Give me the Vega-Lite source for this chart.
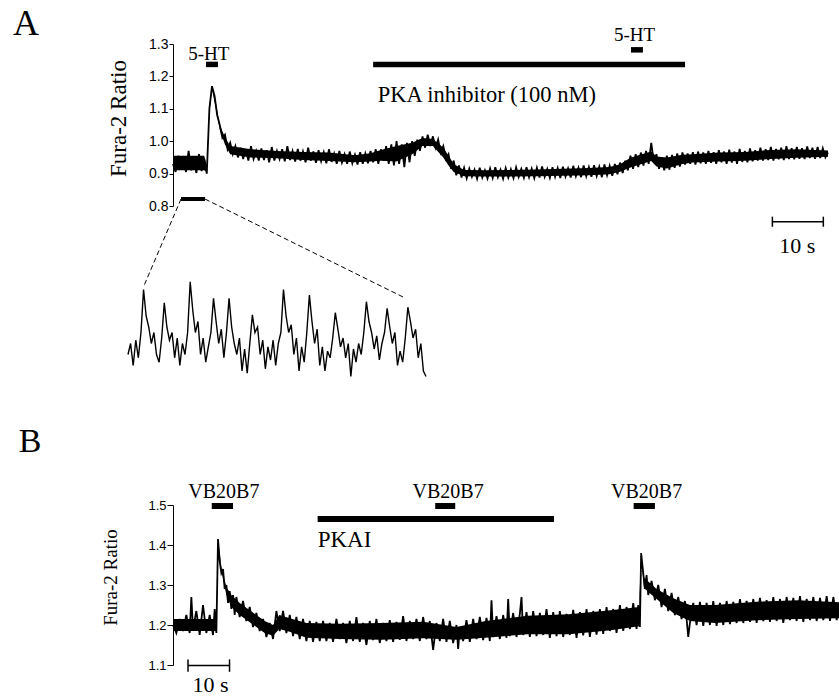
{
"$schema":"https://vega.github.io/schema/vega-lite/v6.json",
"background":"white",
"padding":{"left":12,"top":5,"right":0,"bottom":0},
"spacing":45,
"config":{"view":{"stroke":null}},
"vconcat":[
{
"width":655,"height":162,
"layer":[
{"layer":[
{"data":{"values":[{"t":0,"lo":0.91,"hi":0.955},{"t":6,"lo":0.91,"hi":0.955},{"t":6.5,"lo":0.905,"hi":0.925},{"t":7,"lo":1.09,"hi":1.11},{"t":7.5,"lo":1.16,"hi":1.17},{"t":8,"lo":1.12,"hi":1.14},{"t":9,"lo":1.035,"hi":1.05},{"t":10,"lo":0.99,"hi":1.012},{"t":11,"lo":0.96,"hi":0.985},{"t":15,"lo":0.95,"hi":0.975},{"t":20,"lo":0.947,"hi":0.97},{"t":25,"lo":0.942,"hi":0.967},{"t":30,"lo":0.939,"hi":0.965},{"t":35,"lo":0.935,"hi":0.957},{"t":38,"lo":0.937,"hi":0.963},{"t":40,"lo":0.94,"hi":0.973},{"t":43,"lo":0.937,"hi":0.985},{"t":46,"lo":0.96,"hi":0.995},{"t":48,"lo":0.985,"hi":1.01},{"t":50,"lo":0.985,"hi":1.007},{"t":52,"lo":0.95,"hi":0.98},{"t":53,"lo":0.925,"hi":0.955},{"t":54,"lo":0.905,"hi":0.93},{"t":56,"lo":0.892,"hi":0.911},{"t":60,"lo":0.891,"hi":0.91},{"t":65,"lo":0.891,"hi":0.911},{"t":70,"lo":0.892,"hi":0.913},{"t":75,"lo":0.893,"hi":0.915},{"t":80,"lo":0.895,"hi":0.917},{"t":84,"lo":0.898,"hi":0.92},{"t":86,"lo":0.906,"hi":0.929},{"t":88,"lo":0.919,"hi":0.949},{"t":90,"lo":0.929,"hi":0.959},{"t":92,"lo":0.939,"hi":0.968},{"t":93,"lo":0.922,"hi":0.953},{"t":95,"lo":0.916,"hi":0.95},{"t":98,"lo":0.93,"hi":0.958},{"t":100,"lo":0.934,"hi":0.96},{"t":105,"lo":0.937,"hi":0.965},{"t":110,"lo":0.94,"hi":0.967},{"t":115,"lo":0.945,"hi":0.973},{"t":120,"lo":0.949,"hi":0.975},{"t":126,"lo":0.952,"hi":0.971}]},
 "mark":{"type":"area","color":"black","opacity":1},
 "encoding":{"x":{"field":"t","type":"quantitative","scale":{"domain":[0,126],"nice":false,"zero":false},"axis":null},
  "y":{"field":"lo","type":"quantitative","scale":{"domain":[0.8,1.3],"nice":false,"zero":false},"axis":{"values":[0.8,0.9,1.0,1.1,1.2,1.3]}},"y2":{"field":"hi"}}},
{"data":{"values":[{"t":0,"r":0.93},{"t":0.5,"r":0.905},{"t":1,"r":0.955},{"t":1.5,"r":0.915},{"t":2,"r":0.945},{"t":2.5,"r":0.905},{"t":3,"r":0.97},{"t":3.5,"r":0.91},{"t":4,"r":0.94},{"t":4.5,"r":0.902},{"t":5,"r":0.96},{"t":5.5,"r":0.908},{"t":6,"r":0.945},{"t":6.5,"r":0.9},{"t":7,"r":1.1},{"t":7.5,"r":1.17},{"t":8,"r":1.14},{"t":8.5,"r":1.08},{"t":9,"r":1.05},{"t":9.5,"r":1.01},{"t":10,"r":1.02},{"t":10.5,"r":0.975},{"t":11,"r":0.995},{"t":11.5,"r":0.96},{"t":12,"r":0.985},{"t":12.5,"r":0.95},{"t":13,"r":0.98},{"t":13.5,"r":0.945},{"t":14,"r":0.975},{"t":14.5,"r":0.94},{"t":15,"r":0.985},{"t":15.5,"r":0.945},{"t":16,"r":0.97},{"t":16.5,"r":0.94},{"t":17,"r":0.978},{"t":17.5,"r":0.942},{"t":18,"r":0.972},{"t":18.5,"r":0.935},{"t":19,"r":0.982},{"t":19.5,"r":0.94},{"t":20,"r":0.97},{"t":20.5,"r":0.945},{"t":21,"r":0.975},{"t":21.5,"r":0.938},{"t":22,"r":0.985},{"t":22.5,"r":0.942},{"t":23,"r":0.97},{"t":23.5,"r":0.937},{"t":24,"r":0.976},{"t":24.5,"r":0.94},{"t":25,"r":0.968},{"t":25.5,"r":0.935},{"t":26,"r":0.98},{"t":26.5,"r":0.94},{"t":27,"r":0.968},{"t":27.5,"r":0.933},{"t":28,"r":0.972},{"t":28.5,"r":0.938},{"t":29,"r":0.966},{"t":29.5,"r":0.932},{"t":30,"r":0.975},{"t":30.5,"r":0.936},{"t":31,"r":0.962},{"t":31.5,"r":0.93},{"t":32,"r":0.97},{"t":32.5,"r":0.934},{"t":33,"r":0.96},{"t":33.5,"r":0.93},{"t":34,"r":0.968},{"t":34.5,"r":0.932},{"t":35,"r":0.958},{"t":35.5,"r":0.928},{"t":36,"r":0.966},{"t":36.5,"r":0.93},{"t":37,"r":0.962},{"t":37.5,"r":0.932},{"t":38,"r":0.97},{"t":38.5,"r":0.935},{"t":39,"r":0.975},{"t":39.5,"r":0.93},{"t":40,"r":0.975},{"t":40.5,"r":0.94},{"t":41,"r":0.985},{"t":41.5,"r":0.93},{"t":42,"r":0.99},{"t":42.5,"r":0.925},{"t":43,"r":1.0},{"t":43.5,"r":0.93},{"t":44,"r":0.99},{"t":44.5,"r":0.92},{"t":45,"r":0.995},{"t":45.5,"r":0.935},{"t":46,"r":1.0},{"t":46.5,"r":0.955},{"t":47,"r":1.005},{"t":47.5,"r":0.97},{"t":48,"r":1.015},{"t":48.5,"r":0.98},{"t":49,"r":1.02},{"t":49.5,"r":0.985},{"t":50,"r":1.015},{"t":50.5,"r":0.98},{"t":51,"r":1.005},{"t":51.5,"r":0.965},{"t":52,"r":0.985},{"t":52.5,"r":0.945},{"t":53,"r":0.96},{"t":53.5,"r":0.915},{"t":54,"r":0.94},{"t":54.5,"r":0.895},{"t":55,"r":0.925},{"t":55.5,"r":0.888},{"t":56,"r":0.918},{"t":56.5,"r":0.886},{"t":57,"r":0.915},{"t":57.5,"r":0.89},{"t":58,"r":0.912},{"t":58.5,"r":0.884},{"t":59,"r":0.918},{"t":59.5,"r":0.888},{"t":60,"r":0.91},{"t":60.5,"r":0.885},{"t":61,"r":0.916},{"t":61.5,"r":0.887},{"t":62,"r":0.92},{"t":62.5,"r":0.889},{"t":63,"r":0.912},{"t":63.5,"r":0.884},{"t":64,"r":0.917},{"t":64.5,"r":0.888},{"t":65,"r":0.913},{"t":65.5,"r":0.886},{"t":66,"r":0.919},{"t":66.5,"r":0.89},{"t":67,"r":0.914},{"t":67.5,"r":0.887},{"t":68,"r":0.92},{"t":68.5,"r":0.889},{"t":69,"r":0.915},{"t":69.5,"r":0.886},{"t":70,"r":0.918},{"t":70.5,"r":0.888},{"t":71,"r":0.922},{"t":71.5,"r":0.89},{"t":72,"r":0.914},{"t":72.5,"r":0.887},{"t":73,"r":0.92},{"t":73.5,"r":0.89},{"t":74,"r":0.917},{"t":74.5,"r":0.886},{"t":75,"r":0.921},{"t":75.5,"r":0.891},{"t":76,"r":0.916},{"t":76.5,"r":0.888},{"t":77,"r":0.924},{"t":77.5,"r":0.892},{"t":78,"r":0.918},{"t":78.5,"r":0.889},{"t":79,"r":0.925},{"t":79.5,"r":0.892},{"t":80,"r":0.92},{"t":80.5,"r":0.89},{"t":81,"r":0.926},{"t":81.5,"r":0.893},{"t":82,"r":0.921},{"t":82.5,"r":0.889},{"t":83,"r":0.928},{"t":83.5,"r":0.895},{"t":84,"r":0.924},{"t":84.5,"r":0.893},{"t":85,"r":0.93},{"t":85.5,"r":0.898},{"t":86,"r":0.934},{"t":86.5,"r":0.902},{"t":87,"r":0.94},{"t":87.5,"r":0.91},{"t":88,"r":0.955},{"t":88.5,"r":0.915},{"t":89,"r":0.96},{"t":89.5,"r":0.92},{"t":90,"r":0.965},{"t":90.5,"r":0.925},{"t":91,"r":0.97},{"t":91.5,"r":0.93},{"t":92,"r":0.995},{"t":92.5,"r":0.935},{"t":93,"r":0.96},{"t":93.5,"r":0.915},{"t":94,"r":0.95},{"t":94.5,"r":0.91},{"t":95,"r":0.955},{"t":95.5,"r":0.912},{"t":96,"r":0.958},{"t":96.5,"r":0.918},{"t":97,"r":0.962},{"t":97.5,"r":0.922},{"t":98,"r":0.965},{"t":98.5,"r":0.928},{"t":99,"r":0.962},{"t":99.5,"r":0.93},{"t":100,"r":0.966},{"t":100.5,"r":0.928},{"t":101,"r":0.968},{"t":101.5,"r":0.932},{"t":102,"r":0.965},{"t":102.5,"r":0.93},{"t":103,"r":0.97},{"t":103.5,"r":0.933},{"t":104,"r":0.966},{"t":104.5,"r":0.93},{"t":105,"r":0.972},{"t":105.5,"r":0.935},{"t":106,"r":0.968},{"t":106.5,"r":0.93},{"t":107,"r":0.974},{"t":107.5,"r":0.934},{"t":108,"r":0.968},{"t":108.5,"r":0.93},{"t":109,"r":0.976},{"t":109.5,"r":0.936},{"t":110,"r":0.97},{"t":110.5,"r":0.935},{"t":111,"r":0.978},{"t":111.5,"r":0.938},{"t":112,"r":0.972},{"t":112.5,"r":0.94},{"t":113,"r":0.98},{"t":113.5,"r":0.94},{"t":114,"r":0.975},{"t":114.5,"r":0.942},{"t":115,"r":0.982},{"t":115.5,"r":0.94},{"t":116,"r":0.976},{"t":116.5,"r":0.944},{"t":117,"r":0.98},{"t":117.5,"r":0.942},{"t":118,"r":0.985},{"t":118.5,"r":0.945},{"t":119,"r":0.978},{"t":119.5,"r":0.944},{"t":120,"r":0.982},{"t":120.5,"r":0.946},{"t":121,"r":0.978},{"t":121.5,"r":0.945},{"t":122,"r":0.984},{"t":122.5,"r":0.948},{"t":123,"r":0.98},{"t":123.5,"r":0.946},{"t":124,"r":0.982},{"t":124.5,"r":0.948},{"t":125,"r":0.978},{"t":125.5,"r":0.95},{"t":126,"r":0.965}]},
 "mark":{"type":"line","color":"black","strokeWidth":1.8},
 "encoding":{
  "x":{"field":"t","type":"quantitative","scale":{"domain":[0,126],"nice":false,"zero":false},"axis":null},
  "y":{"field":"r","type":"quantitative","scale":{"domain":[0.8,1.3],"nice":false,"zero":false},
   "axis":{"values":[0.8,0.9,1.0,1.1,1.2,1.3],"format":".1f","labelOverlap":false,"domainColor":"black","domainWidth":1,"tickColor":"black","tickSize":4,"tickWidth":1,"labelFont":"Liberation Sans","labelFontSize":14,"labelColor":"black","labelPadding":1,"grid":false,"title":"Fura-2 Ratio","titleFont":"Liberation Serif","titleFontSize":23,"titleFontWeight":"normal","titleColor":"black","titlePadding":18,"titleY":74}}}},
{"data":{"values":[{"t":6.35,"t2":8.65,"r":1.237},{"t":38.5,"t2":98.5,"r":1.237},{"t":88.1,"t2":90.4,"r":1.282}]},
 "mark":{"type":"rule","color":"black","strokeWidth":5.5,"strokeCap":"butt"},
 "encoding":{"x":{"field":"t","type":"quantitative","scale":{"domain":[0,126],"nice":false,"zero":false},"axis":null},"x2":{"field":"t2"},
  "y":{"field":"r","type":"quantitative","scale":{"domain":[0.8,1.3],"nice":false,"zero":false},"axis":{"values":[0.8,0.9,1.0,1.1,1.2,1.3]}}}},
{"data":{"values":[{"t":1.54,"t2":6.15,"r":0.8216}]},
 "mark":{"type":"rule","color":"black","strokeWidth":4,"strokeCap":"butt"},
 "encoding":{"x":{"field":"t","type":"quantitative","scale":{"domain":[0,126],"nice":false,"zero":false},"axis":null},"x2":{"field":"t2"},
  "y":{"field":"r","type":"quantitative","scale":{"domain":[0.8,1.3],"nice":false,"zero":false},"axis":{"values":[0.8,0.9,1.0,1.1,1.2,1.3]}}}},
{"data":{"values":[{"t":1.54,"r":0.8216,"t2":-5.52,"r2":0.5562},{"t":6.15,"r":0.8216,"t2":44.37,"r2":0.5182}]},
 "mark":{"type":"rule","color":"black","strokeWidth":1,"strokeDash":[5,3]},
 "encoding":{"x":{"field":"t","type":"quantitative","scale":{"domain":[0,126],"nice":false,"zero":false},"axis":null},"x2":{"field":"t2"},
  "y":{"field":"r","type":"quantitative","scale":{"domain":[0.8,1.3],"nice":false,"zero":false},"axis":{"values":[0.8,0.9,1.0,1.1,1.2,1.3]}},"y2":{"field":"r2"}}},
{"data":{"values":[{"t":115.3,"t2":125.1,"r":0.7515}]},
 "mark":{"type":"rule","color":"black","strokeWidth":1.5},
 "encoding":{"x":{"field":"t","type":"quantitative","scale":{"domain":[0,126],"nice":false,"zero":false},"axis":null},"x2":{"field":"t2"},
  "y":{"field":"r","type":"quantitative","scale":{"domain":[0.8,1.3],"nice":false,"zero":false},"axis":{"values":[0.8,0.9,1.0,1.1,1.2,1.3]}}}},
{"data":{"values":[{"t":115.3,"r":0.767,"r2":0.736},{"t":125.1,"r":0.767,"r2":0.736}]},
 "mark":{"type":"rule","color":"black","strokeWidth":1.5},
 "encoding":{"x":{"field":"t","type":"quantitative","scale":{"domain":[0,126],"nice":false,"zero":false},"axis":null},
  "y":{"field":"r","type":"quantitative","scale":{"domain":[0.8,1.3],"nice":false,"zero":false},"axis":{"values":[0.8,0.9,1.0,1.1,1.2,1.3]}},"y2":{"field":"r2"}}},
{"data":{"values":[{"t":6.9,"r":1.2506,"label":"5-HT"},{"t":88.8,"r":1.309,"label":"5-HT"}]},
 "mark":{"type":"text","font":"Liberation Serif","fontSize":19,"align":"center","baseline":"alphabetic","color":"black"},
 "encoding":{"x":{"field":"t","type":"quantitative","scale":{"domain":[0,126],"nice":false,"zero":false},"axis":null},
  "y":{"field":"r","type":"quantitative","scale":{"domain":[0.8,1.3],"nice":false,"zero":false},"axis":{"values":[0.8,0.9,1.0,1.1,1.2,1.3]}},"text":{"field":"label"}}},
{"data":{"values":[{"t":39.4,"r":1.122,"label":"PKA inhibitor (100 nM)"}]},
 "mark":{"type":"text","font":"Liberation Serif","fontSize":22.5,"align":"left","baseline":"alphabetic","color":"black"},
 "encoding":{"x":{"field":"t","type":"quantitative","scale":{"domain":[0,126],"nice":false,"zero":false},"axis":null},
  "y":{"field":"r","type":"quantitative","scale":{"domain":[0.8,1.3],"nice":false,"zero":false},"axis":{"values":[0.8,0.9,1.0,1.1,1.2,1.3]}},"text":{"field":"label"}}},
{"data":{"values":[{"t":120.1,"r":0.655,"label":"10 s"}]},
 "mark":{"type":"text","font":"Liberation Serif","fontSize":22,"align":"center","baseline":"alphabetic","color":"black"},
 "encoding":{"x":{"field":"t","type":"quantitative","scale":{"domain":[0,126],"nice":false,"zero":false},"axis":null},
  "y":{"field":"r","type":"quantitative","scale":{"domain":[0.8,1.3],"nice":false,"zero":false},"axis":{"values":[0.8,0.9,1.0,1.1,1.2,1.3]}},"text":{"field":"label"}}},
{"data":{"values":[{"t":-28.3,"r":1.328,"label":"A"}]},
 "mark":{"type":"text","font":"Liberation Serif","fontSize":36,"align":"center","baseline":"alphabetic","color":"black"},
 "encoding":{"x":{"field":"t","type":"quantitative","scale":{"domain":[0,126],"nice":false,"zero":false},"axis":null},
  "y":{"field":"r","type":"quantitative","scale":{"domain":[0.8,1.3],"nice":false,"zero":false},"axis":{"values":[0.8,0.9,1.0,1.1,1.2,1.3]}},"text":{"field":"label"}}}
]},
{"data":{"values":[{"u":0,"r":0.915},{"u":0.04,"r":0.925},{"u":0.08,"r":0.905},{"u":0.12,"r":0.928},{"u":0.16,"r":0.912},{"u":0.2,"r":0.935},{"u":0.24,"r":0.974},{"u":0.28,"r":0.95},{"u":0.32,"r":0.94},{"u":0.36,"r":0.925},{"u":0.4,"r":0.935},{"u":0.44,"r":0.915},{"u":0.48,"r":0.908},{"u":0.52,"r":0.93},{"u":0.56,"r":0.962},{"u":0.6,"r":0.94},{"u":0.64,"r":0.928},{"u":0.68,"r":0.935},{"u":0.72,"r":0.912},{"u":0.76,"r":0.93},{"u":0.8,"r":0.905},{"u":0.84,"r":0.925},{"u":0.88,"r":0.915},{"u":0.92,"r":0.935},{"u":0.96,"r":0.981},{"u":1.0,"r":0.955},{"u":1.04,"r":0.935},{"u":1.08,"r":0.945},{"u":1.12,"r":0.915},{"u":1.16,"r":0.93},{"u":1.2,"r":0.908},{"u":1.24,"r":0.922},{"u":1.28,"r":0.935},{"u":1.32,"r":0.966},{"u":1.36,"r":0.945},{"u":1.4,"r":0.925},{"u":1.44,"r":0.938},{"u":1.48,"r":0.912},{"u":1.52,"r":0.935},{"u":1.56,"r":0.966},{"u":1.6,"r":0.94},{"u":1.64,"r":0.925},{"u":1.68,"r":0.915},{"u":1.72,"r":0.93},{"u":1.76,"r":0.9},{"u":1.8,"r":0.92},{"u":1.84,"r":0.898},{"u":1.88,"r":0.925},{"u":1.92,"r":0.951},{"u":1.96,"r":0.935},{"u":2.0,"r":0.94},{"u":2.04,"r":0.915},{"u":2.08,"r":0.928},{"u":2.12,"r":0.902},{"u":2.16,"r":0.922},{"u":2.2,"r":0.91},{"u":2.24,"r":0.928},{"u":2.28,"r":0.905},{"u":2.32,"r":0.925},{"u":2.36,"r":0.935},{"u":2.4,"r":0.974},{"u":2.44,"r":0.95},{"u":2.48,"r":0.935},{"u":2.52,"r":0.942},{"u":2.56,"r":0.915},{"u":2.6,"r":0.93},{"u":2.64,"r":0.9},{"u":2.68,"r":0.922},{"u":2.72,"r":0.908},{"u":2.76,"r":0.935},{"u":2.8,"r":0.969},{"u":2.84,"r":0.945},{"u":2.88,"r":0.925},{"u":2.92,"r":0.938},{"u":2.96,"r":0.905},{"u":3.0,"r":0.922},{"u":3.04,"r":0.9},{"u":3.08,"r":0.918},{"u":3.12,"r":0.912},{"u":3.16,"r":0.93},{"u":3.2,"r":0.953},{"u":3.24,"r":0.938},{"u":3.28,"r":0.922},{"u":3.32,"r":0.93},{"u":3.36,"r":0.912},{"u":3.4,"r":0.925},{"u":3.44,"r":0.895},{"u":3.48,"r":0.92},{"u":3.52,"r":0.908},{"u":3.56,"r":0.925},{"u":3.6,"r":0.915},{"u":3.64,"r":0.935},{"u":3.68,"r":0.963},{"u":3.72,"r":0.945},{"u":3.76,"r":0.935},{"u":3.8,"r":0.92},{"u":3.84,"r":0.932},{"u":3.88,"r":0.91},{"u":3.92,"r":0.925},{"u":3.96,"r":0.935},{"u":4.0,"r":0.957},{"u":4.04,"r":0.94},{"u":4.08,"r":0.925},{"u":4.12,"r":0.935},{"u":4.16,"r":0.905},{"u":4.2,"r":0.918},{"u":4.24,"r":0.908},{"u":4.28,"r":0.93},{"u":4.32,"r":0.958},{"u":4.36,"r":0.945},{"u":4.4,"r":0.93},{"u":4.44,"r":0.938},{"u":4.48,"r":0.912},{"u":4.52,"r":0.925},{"u":4.56,"r":0.9},{"u":4.6,"r":0.895}]},
 "mark":{"type":"line","color":"black","strokeWidth":1.4},
 "encoding":{
  "x":{"field":"u","type":"quantitative","scale":{"domain":[0,4.6],"range":[-45,253],"nice":false,"zero":false},"axis":null},
  "y":{"field":"r","type":"quantitative","scale":{"domain":[0.89,0.99],"range":[338,228],"nice":false,"zero":false},"axis":null}}}
],
"resolve":{"scale":{"x":"independent","y":"independent"},"axis":{"y":"independent"}}
},
{
"width":667,"height":160,
"layer":[
{"data":{"values":[{"t":0,"lo":1.185,"hi":1.215},{"t":10.4,"lo":1.185,"hi":1.215},{"t":10.8,"lo":1.4,"hi":1.415},{"t":11.6,"lo":1.335,"hi":1.345},{"t":12.8,"lo":1.275,"hi":1.295},{"t":14,"lo":1.245,"hi":1.275},{"t":16,"lo":1.225,"hi":1.255},{"t":18,"lo":1.21,"hi":1.24},{"t":20,"lo":1.195,"hi":1.225},{"t":22,"lo":1.18,"hi":1.21},{"t":24,"lo":1.173,"hi":1.2},{"t":25.5,"lo":1.19,"hi":1.225},{"t":28,"lo":1.183,"hi":1.217},{"t":32,"lo":1.168,"hi":1.205},{"t":40,"lo":1.165,"hi":1.203},{"t":50,"lo":1.163,"hi":1.205},{"t":60,"lo":1.167,"hi":1.208},{"t":68,"lo":1.163,"hi":1.195},{"t":75,"lo":1.168,"hi":1.21},{"t":85,"lo":1.177,"hi":1.223},{"t":95,"lo":1.177,"hi":1.227},{"t":105,"lo":1.187,"hi":1.237},{"t":111.8,"lo":1.197,"hi":1.245},{"t":112.3,"lo":1.37,"hi":1.38},{"t":113,"lo":1.292,"hi":1.318},{"t":116,"lo":1.265,"hi":1.29},{"t":120,"lo":1.23,"hi":1.267},{"t":124,"lo":1.21,"hi":1.25},{"t":130,"lo":1.205,"hi":1.25},{"t":140,"lo":1.212,"hi":1.258},{"t":150,"lo":1.215,"hi":1.262},{"t":160,"lo":1.217,"hi":1.257}]},
 "mark":{"type":"area","color":"black","opacity":1},
 "encoding":{"x":{"field":"t","type":"quantitative","scale":{"domain":[0,160],"nice":false,"zero":false},"axis":null},
  "y":{"field":"lo","type":"quantitative","scale":{"domain":[1.1,1.5],"nice":false,"zero":false},"axis":{"values":[1.1,1.2,1.3,1.4,1.5]}},"y2":{"field":"hi"}}},
{"data":{"values":[{"t":0,"r":1.2},{"t":0.8,"r":1.18},{"t":1.6,"r":1.215},{"t":2.4,"r":1.185},{"t":3.2,"r":1.225},{"t":4.0,"r":1.18},{"t":4.4,"r":1.27},{"t":4.8,"r":1.19},{"t":5.6,"r":1.235},{"t":6.4,"r":1.175},{"t":7.2,"r":1.25},{"t":8.0,"r":1.18},{"t":8.8,"r":1.225},{"t":9.6,"r":1.175},{"t":10.0,"r":1.24},{"t":10.4,"r":1.18},{"t":10.8,"r":1.415},{"t":11.2,"r":1.36},{"t":11.6,"r":1.33},{"t":12.0,"r":1.34},{"t":12.4,"r":1.29},{"t":12.8,"r":1.3},{"t":13.2,"r":1.255},{"t":13.6,"r":1.285},{"t":14.0,"r":1.24},{"t":14.4,"r":1.275},{"t":14.8,"r":1.225},{"t":15.2,"r":1.27},{"t":16.0,"r":1.22},{"t":16.8,"r":1.26},{"t":17.6,"r":1.21},{"t":18.4,"r":1.245},{"t":19.2,"r":1.195},{"t":20.0,"r":1.23},{"t":20.8,"r":1.185},{"t":21.6,"r":1.215},{"t":22.4,"r":1.17},{"t":23.2,"r":1.205},{"t":24.0,"r":1.165},{"t":24.8,"r":1.235},{"t":25.6,"r":1.185},{"t":26.4,"r":1.235},{"t":27.2,"r":1.18},{"t":28.0,"r":1.225},{"t":28.8,"r":1.172},{"t":29.6,"r":1.22},{"t":30.4,"r":1.165},{"t":31.2,"r":1.215},{"t":32.0,"r":1.16},{"t":32.8,"r":1.21},{"t":33.6,"r":1.158},{"t":34.4,"r":1.208},{"t":35.2,"r":1.16},{"t":36.0,"r":1.21},{"t":36.8,"r":1.16},{"t":37.6,"r":1.205},{"t":38.4,"r":1.158},{"t":39.2,"r":1.215},{"t":40.0,"r":1.165},{"t":40.8,"r":1.205},{"t":41.6,"r":1.155},{"t":42.4,"r":1.21},{"t":43.2,"r":1.16},{"t":44.0,"r":1.22},{"t":44.8,"r":1.158},{"t":45.6,"r":1.205},{"t":46.4,"r":1.15},{"t":47.2,"r":1.21},{"t":48.0,"r":1.162},{"t":48.8,"r":1.215},{"t":49.6,"r":1.155},{"t":50.4,"r":1.205},{"t":51.2,"r":1.16},{"t":52.0,"r":1.212},{"t":52.8,"r":1.158},{"t":53.6,"r":1.208},{"t":54.4,"r":1.163},{"t":55.2,"r":1.222},{"t":56.0,"r":1.16},{"t":56.8,"r":1.21},{"t":57.6,"r":1.165},{"t":58.4,"r":1.215},{"t":59.2,"r":1.16},{"t":60.0,"r":1.22},{"t":60.8,"r":1.165},{"t":61.6,"r":1.21},{"t":62.4,"r":1.138},{"t":63.2,"r":1.205},{"t":64.0,"r":1.16},{"t":64.8,"r":1.215},{"t":65.6,"r":1.158},{"t":66.4,"r":1.21},{"t":67.2,"r":1.155},{"t":68.0,"r":1.2},{"t":68.4,"r":1.14},{"t":68.8,"r":1.195},{"t":69.6,"r":1.16},{"t":70.4,"r":1.212},{"t":71.2,"r":1.158},{"t":72.0,"r":1.215},{"t":72.8,"r":1.165},{"t":73.6,"r":1.22},{"t":74.4,"r":1.162},{"t":75.2,"r":1.218},{"t":76.0,"r":1.16},{"t":76.4,"r":1.262},{"t":76.8,"r":1.17},{"t":77.6,"r":1.222},{"t":78.4,"r":1.165},{"t":79.2,"r":1.225},{"t":80.0,"r":1.168},{"t":80.4,"r":1.265},{"t":80.8,"r":1.172},{"t":81.6,"r":1.23},{"t":82.4,"r":1.17},{"t":83.2,"r":1.228},{"t":83.6,"r":1.27},{"t":84.0,"r":1.175},{"t":84.8,"r":1.232},{"t":85.6,"r":1.17},{"t":86.4,"r":1.235},{"t":87.2,"r":1.172},{"t":88.0,"r":1.23},{"t":88.8,"r":1.175},{"t":89.6,"r":1.24},{"t":90.4,"r":1.168},{"t":91.2,"r":1.232},{"t":92.0,"r":1.172},{"t":92.8,"r":1.235},{"t":93.6,"r":1.17},{"t":94.4,"r":1.228},{"t":95.2,"r":1.175},{"t":96.0,"r":1.238},{"t":96.8,"r":1.168},{"t":97.6,"r":1.232},{"t":98.4,"r":1.174},{"t":99.2,"r":1.24},{"t":100.0,"r":1.17},{"t":100.8,"r":1.235},{"t":101.6,"r":1.176},{"t":102.4,"r":1.24},{"t":103.2,"r":1.178},{"t":104.0,"r":1.245},{"t":104.8,"r":1.185},{"t":105.6,"r":1.24},{"t":106.4,"r":1.18},{"t":107.2,"r":1.25},{"t":108.0,"r":1.185},{"t":108.8,"r":1.245},{"t":109.6,"r":1.19},{"t":110.4,"r":1.255},{"t":111.2,"r":1.19},{"t":111.6,"r":1.25},{"t":112.0,"r":1.195},{"t":112.3,"r":1.38},{"t":112.8,"r":1.33},{"t":113.2,"r":1.29},{"t":113.6,"r":1.325},{"t":114.0,"r":1.275},{"t":114.8,"r":1.31},{"t":115.6,"r":1.262},{"t":116.4,"r":1.3},{"t":117.2,"r":1.245},{"t":118.0,"r":1.29},{"t":118.8,"r":1.235},{"t":119.6,"r":1.28},{"t":120.4,"r":1.225},{"t":121.2,"r":1.27},{"t":122.0,"r":1.215},{"t":122.8,"r":1.26},{"t":123.6,"r":1.17},{"t":124.0,"r":1.205},{"t":124.8,"r":1.255},{"t":125.6,"r":1.2},{"t":126.4,"r":1.258},{"t":127.2,"r":1.198},{"t":128.0,"r":1.255},{"t":128.8,"r":1.2},{"t":129.6,"r":1.26},{"t":130.4,"r":1.198},{"t":131.2,"r":1.255},{"t":132.0,"r":1.2},{"t":132.8,"r":1.26},{"t":133.6,"r":1.202},{"t":134.4,"r":1.258},{"t":135.2,"r":1.205},{"t":136.0,"r":1.265},{"t":136.8,"r":1.205},{"t":137.6,"r":1.26},{"t":138.4,"r":1.208},{"t":139.2,"r":1.265},{"t":140.0,"r":1.205},{"t":140.8,"r":1.268},{"t":141.6,"r":1.21},{"t":142.4,"r":1.262},{"t":143.2,"r":1.208},{"t":144.0,"r":1.27},{"t":144.8,"r":1.21},{"t":145.6,"r":1.265},{"t":146.4,"r":1.205},{"t":147.2,"r":1.27},{"t":148.0,"r":1.212},{"t":148.8,"r":1.268},{"t":149.6,"r":1.21},{"t":150.4,"r":1.272},{"t":151.2,"r":1.208},{"t":152.0,"r":1.265},{"t":152.8,"r":1.212},{"t":153.6,"r":1.27},{"t":154.4,"r":1.21},{"t":155.2,"r":1.268},{"t":156.0,"r":1.212},{"t":156.8,"r":1.272},{"t":157.6,"r":1.21},{"t":158.4,"r":1.27},{"t":159.2,"r":1.212},{"t":160.0,"r":1.26}]},
 "mark":{"type":"line","color":"black","strokeWidth":1.8},
 "encoding":{
  "x":{"field":"t","type":"quantitative","scale":{"domain":[0,160],"nice":false,"zero":false},"axis":null},
  "y":{"field":"r","type":"quantitative","scale":{"domain":[1.1,1.5],"nice":false,"zero":false},
   "axis":{"values":[1.1,1.2,1.3,1.4,1.5],"format":".1f","labelOverlap":false,"domainColor":"black","domainWidth":1,"tickColor":"black","tickSize":6,"tickWidth":1,"labelFont":"Liberation Sans","labelFontSize":13,"labelColor":"black","labelPadding":1,"grid":false,"title":"Fura-2 Ratio","titleFont":"Liberation Serif","titleFontSize":19,"titleFontWeight":"normal","titleColor":"black","titlePadding":27,"titleY":72}}}},
{"data":{"values":[{"t":9.3,"t2":14.4,"r":1.4975},{"t":62.9,"t2":67.7,"r":1.4975},{"t":110.5,"t2":115.6,"r":1.4975},{"t":34.7,"t2":91.4,"r":1.465}]},
 "mark":{"type":"rule","color":"black","strokeWidth":6,"strokeCap":"butt"},
 "encoding":{"x":{"field":"t","type":"quantitative","scale":{"domain":[0,160],"nice":false,"zero":false},"axis":null},"x2":{"field":"t2"},
  "y":{"field":"r","type":"quantitative","scale":{"domain":[1.1,1.5],"nice":false,"zero":false},"axis":{"values":[1.1,1.2,1.3,1.4,1.5]}}}},
{"data":{"values":[{"t":3.6,"t2":13.56,"r":1.0985}]},
 "mark":{"type":"rule","color":"black","strokeWidth":1.5},
 "encoding":{"x":{"field":"t","type":"quantitative","scale":{"domain":[0,160],"nice":false,"zero":false},"axis":null},"x2":{"field":"t2"},
  "y":{"field":"r","type":"quantitative","scale":{"domain":[1.1,1.5],"nice":false,"zero":false},"axis":{"values":[1.1,1.2,1.3,1.4,1.5]}}}},
{"data":{"values":[{"t":3.6,"r":1.114,"r2":1.083},{"t":13.56,"r":1.114,"r2":1.083}]},
 "mark":{"type":"rule","color":"black","strokeWidth":1.5},
 "encoding":{"x":{"field":"t","type":"quantitative","scale":{"domain":[0,160],"nice":false,"zero":false},"axis":null},
  "y":{"field":"r","type":"quantitative","scale":{"domain":[1.1,1.5],"nice":false,"zero":false},"axis":{"values":[1.1,1.2,1.3,1.4,1.5]}},"y2":{"field":"r2"}}},
{"data":{"values":[{"t":12.2,"r":1.517,"label":"VB20B7"},{"t":66.0,"r":1.517,"label":"VB20B7"},{"t":113.6,"r":1.517,"label":"VB20B7"}]},
 "mark":{"type":"text","font":"Liberation Serif","fontSize":20,"align":"center","baseline":"alphabetic","color":"black"},
 "encoding":{"x":{"field":"t","type":"quantitative","scale":{"domain":[0,160],"nice":false,"zero":false},"axis":null},
  "y":{"field":"r","type":"quantitative","scale":{"domain":[1.1,1.5],"nice":false,"zero":false},"axis":{"values":[1.1,1.2,1.3,1.4,1.5]}},"text":{"field":"label"}}},
{"data":{"values":[{"t":34.7,"r":1.394,"label":"PKAI"}]},
 "mark":{"type":"text","font":"Liberation Serif","fontSize":23,"align":"left","baseline":"alphabetic","color":"black"},
 "encoding":{"x":{"field":"t","type":"quantitative","scale":{"domain":[0,160],"nice":false,"zero":false},"axis":null},
  "y":{"field":"r","type":"quantitative","scale":{"domain":[1.1,1.5],"nice":false,"zero":false},"axis":{"values":[1.1,1.2,1.3,1.4,1.5]}},"text":{"field":"label"}}},
{"data":{"values":[{"t":9.0,"r":1.032,"label":"10 s"}]},
 "mark":{"type":"text","font":"Liberation Serif","fontSize":22,"align":"center","baseline":"alphabetic","color":"black"},
 "encoding":{"x":{"field":"t","type":"quantitative","scale":{"domain":[0,160],"nice":false,"zero":false},"axis":null},
  "y":{"field":"r","type":"quantitative","scale":{"domain":[1.1,1.5],"nice":false,"zero":false},"axis":{"values":[1.1,1.2,1.3,1.4,1.5]}},"text":{"field":"label"}}},
{"data":{"values":[{"t":-34.3,"r":1.632,"label":"B"}]},
 "mark":{"type":"text","font":"Liberation Serif","fontSize":34,"align":"center","baseline":"alphabetic","color":"black"},
 "encoding":{"x":{"field":"t","type":"quantitative","scale":{"domain":[0,160],"nice":false,"zero":false},"axis":null},
  "y":{"field":"r","type":"quantitative","scale":{"domain":[1.1,1.5],"nice":false,"zero":false},"axis":{"values":[1.1,1.2,1.3,1.4,1.5]}},"text":{"field":"label"}}}
]
}
]
}
